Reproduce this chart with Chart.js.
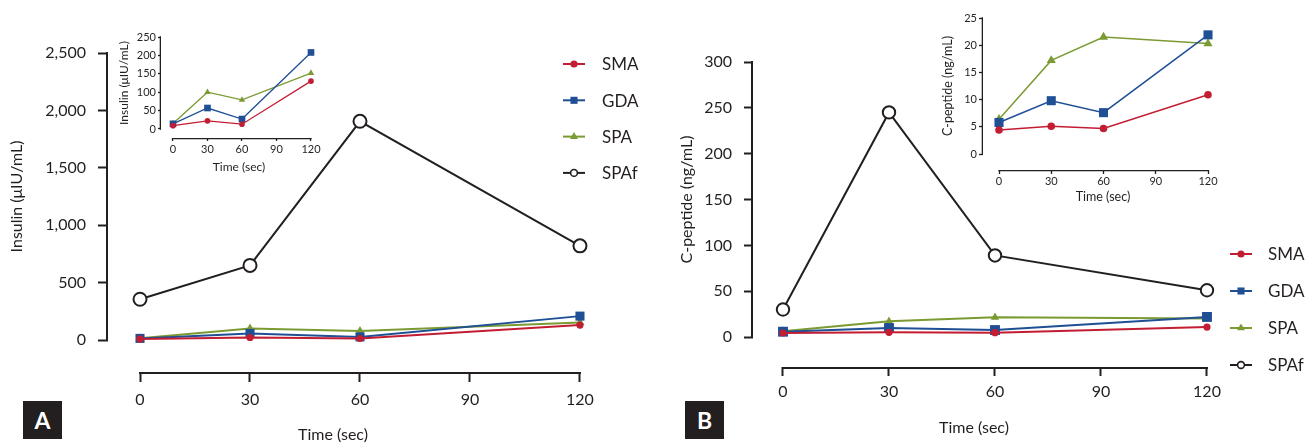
<!DOCTYPE html>
<html>
<head>
<meta charset="utf-8">
<script src="https://cdn.jsdelivr.net/npm/chart.js@4.4.1/dist/chart.umd.min.js"></script>
<style>
html, body { margin: 0; padding: 0; background: #fff; }
#fig { position: relative; width: 1312px; height: 443px; overflow: hidden; }
#fig canvas { position: absolute; }
.tag { position: absolute; top: 401px; width: 39px; height: 38px; background: #231f20; color: #fff;
       font: bold 23px Lato, sans-serif; text-align: center; line-height: 38px; }
</style>
</head>
<body>
<div id="fig">
  <canvas id="mainA" width="660" height="443" style="left:0;top:0"></canvas>
  <canvas id="mainB" width="652" height="443" style="left:660px;top:0"></canvas>
  <canvas id="insetA" width="225" height="160" style="left:100px;top:25px"></canvas>
  <canvas id="insetB" width="300" height="210" style="left:920px;top:0"></canvas>
  <div class="tag" style="left:23px">A</div>
  <div class="tag" style="left:685px">B</div>
</div>
<script>
// sampling times and axis ticks
const timePoints = [0, 30, 60, 120];
const timeTicks = [0, 30, 60, 90, 120];

// insulin (uIU/mL)
const insulinSMA = [9, 22, 13, 130];
const insulinGDA = [14, 57, 27, 208];
const insulinSPA = [15, 100, 79, 152];
const insulinSPAf = [355, 650, 1905, 820];
const insulinTicks = [0, 500, 1000, 1500, 2000, 2500];
const insulinInsetTicks = [0, 50, 100, 150, 200, 250];

// C-peptide (ng/mL)
const cpepSMA = [4.4, 5.1, 4.7, 10.9];
const cpepGDA = [5.8, 9.8, 7.6, 21.9];
const cpepSPA = [6.4, 17.2, 21.5, 20.3];
const cpepSPAf = [30, 245, 89, 51];
const cpepTicks = [0, 50, 100, 150, 200, 250, 300];
const cpepInsetTicks = [0, 5, 10, 15, 20, 25];

const ink = '#231f20';
const fontFamily = 'Lato, sans-serif';
const looks = {
    SMA:  { color: '#c31d33', shape: 'circle',   fill: '#c31d33' },
    GDA:  { color: '#1f4f94', shape: 'rect',     fill: '#1f4f94' },
    SPA:  { color: '#7b9b32', shape: 'triangle', fill: '#7b9b32' },
    SPAf: { color: ink,       shape: 'circle',   fill: '#ffffff' }
};

// extra drawing per chart: partial axis lines, axis titles, legend
const decoCfg = {};

function drawMarker(ctx, shape, r, bw, x, y) {
    if (Chart.helpers && Chart.helpers.drawPoint) {
        Chart.helpers.drawPoint(ctx, { pointStyle: shape, radius: r, rotation: 0, borderWidth: bw }, x, y);
        return;
    }
    ctx.beginPath();
    ctx.arc(x, y, r, 0, Math.PI * 2);
    ctx.fill();
    if (bw > 0) ctx.stroke();
}

const deco = {
    id: 'deco',
    afterDraw(chart) {
        const c = decoCfg[chart.canvas.id];
        const ctx = chart.ctx;
        const area = chart.chartArea;
        const xs = chart.scales.x, ys = chart.scales.y;
        const w = c.axisWidth;
        ctx.save();
        ctx.strokeStyle = ink;
        ctx.lineWidth = w;
        // axis lines only over the value range
        const yTop = ys.getPixelForValue(c.yTop), yZero = ys.getPixelForValue(0);
        ctx.beginPath();
        ctx.moveTo(area.left - w / 2, yTop - w / 2);
        ctx.lineTo(area.left - w / 2, yZero + w / 2);
        ctx.stroke();
        const x0 = xs.getPixelForValue(timeTicks[0]), x1 = xs.getPixelForValue(timeTicks[timeTicks.length - 1]);
        ctx.beginPath();
        ctx.moveTo(x0 - w / 2, area.bottom + w / 2);
        ctx.lineTo(x1 + w / 2, area.bottom + w / 2);
        ctx.stroke();

        // axis titles
        ctx.fillStyle = ink;
        ctx.textAlign = 'center';
        ctx.textBaseline = 'middle';
        ctx.font = c.titleSize + 'px ' + fontFamily;
        ctx.fillText('Time (sec)', c.xTitleX, c.xTitleY);
        ctx.save();
        ctx.translate(c.yTitleX, (yTop + yZero) / 2 + (c.yTitleShift || 0));
        ctx.rotate(-Math.PI / 2);
        ctx.fillText(c.yTitle, 0, 0);
        ctx.restore();

        // legend: line sample with marker, then label
        if (c.legend) {
            const L = c.legend;
            chart.data.datasets.forEach((ds, i) => {
                const y = L.y + i * L.dy;
                ctx.strokeStyle = ds.borderColor;
                ctx.lineWidth = 2;
                ctx.beginPath();
                ctx.moveTo(L.x, y);
                ctx.lineTo(L.x + 22, y);
                ctx.stroke();
                ctx.fillStyle = ds.pointBackgroundColor;
                ctx.strokeStyle = ds.pointBorderColor;
                const bw = ds.label === 'SPAf' ? 1.6 : 0;
                ctx.lineWidth = bw;
                drawMarker(ctx, ds.pointStyle, L.sizes[ds.label], bw, L.x + 11, y);
                ctx.fillStyle = ink;
                ctx.textAlign = 'left';
                ctx.font = L.font + 'px ' + fontFamily;
                ctx.fillText(ds.label, L.textX, y + 1);
            });
        }
        ctx.restore();
    }
};

function buildChart(id, cfg) {
    decoCfg[id] = cfg.deco;
    const datasets = cfg.series.map(([name, vals]) => {
        const look = looks[name];
        return {
            label: name,
            data: timePoints.map((t, i) => ({ x: t, y: vals[i] })),
            borderColor: look.color,
            borderWidth: cfg.lineWidth,
            pointStyle: look.shape,
            pointRadius: cfg.sizes[name],
            pointBackgroundColor: look.fill,
            pointBorderColor: look.color,
            pointBorderWidth: name === 'SPAf' ? cfg.ringWidth : 0,
            tension: 0,
            clip: false
        };
    });
    const tickFont = { family: fontFamily, size: cfg.tickSize };
    const grid = () => ({
        display: true, drawOnChartArea: false, drawTicks: true,
        tickLength: cfg.tickLen, tickWidth: cfg.deco.axisWidth, tickColor: ink
    });
    return new Chart(document.getElementById(id), {
        type: 'line',
        data: { datasets },
        options: {
            responsive: false,
            animation: false,
            events: [],
            layout: { padding: { top: cfg.padTop, right: cfg.padRight, left: 0, bottom: 0 } },
            scales: {
                x: {
                    type: 'linear', min: cfg.xMin, max: cfg.xMax,
                    grid: grid(), border: { display: false },
                    ticks: { font: tickFont, color: ink, padding: cfg.xPad, maxRotation: 0, autoSkip: false },
                    afterBuildTicks: s => { s.ticks = timeTicks.map(v => ({ value: v })); },
                    afterFit: s => { s.height = cfg.xHeight; }
                },
                y: {
                    type: 'linear', min: cfg.yMin, max: cfg.yMax,
                    grid: grid(), border: { display: false },
                    ticks: {
                        font: tickFont, color: ink, padding: cfg.yPad, autoSkip: false,
                        callback: v => cfg.comma ? v.toLocaleString('en-US') : String(v)
                    },
                    afterBuildTicks: s => { s.ticks = cfg.yTicks.map(v => ({ value: v })); },
                    afterFit: s => { s.width = cfg.yWidth; }
                }
            },
            plugins: { legend: { display: false }, tooltip: { enabled: false } }
        },
        plugins: [deco]
    });
}

// panel A, main
buildChart('mainA', {
    series: [['SMA', insulinSMA], ['GDA', insulinGDA], ['SPA', insulinSPA], ['SPAf', insulinSPAf]],
    sizes: { SMA: 3.6, GDA: 6.4, SPA: 5, SPAf: 6.5 },
    lineWidth: 2, ringWidth: 2,
    xMin: -8.73, xMax: 121.1, yMin: -278.7, yMax: 2500, yTicks: insulinTicks, comma: true,
    padTop: 53, padRight: 76, yWidth: 108, xHeight: 71,
    tickLen: 10, tickSize: 16, yPad: 12, xPad: 8,
    deco: {
        axisWidth: 2, yTop: 2500, yTitle: 'Insulin (\u03bcIU/mL)', yTitleX: 17,
        xTitleX: 333, xTitleY: 435, titleSize: 16,
        legend: { x: 563, y: 64, dy: 36.3, textX: 602, font: 17, sizes: { SMA: 3.6, GDA: 5, SPA: 4.6, SPAf: 3.4 } }
    }
});

// panel B, main
buildChart('mainB', {
    series: [['SMA', cpepSMA], ['GDA', cpepGDA], ['SPA', cpepSPA], ['SPAf', cpepSPAf]],
    sizes: { SMA: 3.6, GDA: 7, SPA: 4.8, SPAf: 6.2 },
    lineWidth: 2, ringWidth: 2,
    xMin: -8.49, xMax: 120.57, yMin: -32.7, yMax: 300, yTicks: cpepTicks, comma: false,
    padTop: 62, padRight: 103, yWidth: 93, xHeight: 76,
    tickLen: 9, tickSize: 16, yPad: 12, xPad: 6,
    deco: {
        axisWidth: 2, yTop: 300, yTitle: 'C-peptide (ng/mL)', yTitleX: 27,
        xTitleX: 314, xTitleY: 428, titleSize: 16,
        legend: { x: 570, y: 254, dy: 37, textX: 608, font: 17, sizes: { SMA: 3.6, GDA: 5, SPA: 4.6, SPAf: 3.4 } }
    }
});

// panel A, inset
buildChart('insetA', {
    series: [['SMA', insulinSMA], ['GDA', insulinGDA], ['SPA', insulinSPA]],
    sizes: { SMA: 2.8, GDA: 4.7, SPA: 3.7 },
    lineWidth: 1.3, ringWidth: 1.3,
    xMin: -10.43, xMax: 120.87, yMin: -24.5, yMax: 250, yTicks: insulinInsetTicks, comma: false,
    padTop: 12, padRight: 13, yWidth: 61, xHeight: 47,
    tickLen: 3, tickSize: 11, yPad: 2, xPad: 2,
    deco: {
        axisWidth: 1.3, yTop: 250, yTitle: 'Insulin (\u03bcIU/mL)', yTitleX: 24,
        xTitleX: 139, xTitleY: 142, titleSize: 12
    }
});

// panel B, inset
buildChart('insetB', {
    series: [['SMA', cpepSMA], ['GDA', cpepGDA], ['SPA', cpepSPA]],
    sizes: { SMA: 3.8, GDA: 6.4, SPA: 5.3 },
    lineWidth: 1.5, ringWidth: 1.5,
    xMin: -9.19, xMax: 120.57, yMin: -2.94, yMax: 25, yTicks: cpepInsetTicks, comma: false,
    padTop: 18, padRight: 11, yWidth: 63, xHeight: 40,
    tickLen: 4, tickSize: 11, yPad: 2, xPad: 1,
    deco: {
        axisWidth: 1.3, yTop: 25, yTitle: 'C-peptide (ng/mL)', yTitleX: 28,
        xTitleX: 183, xTitleY: 197, titleSize: 12.5
    }
});
</script>
</body>
</html>
